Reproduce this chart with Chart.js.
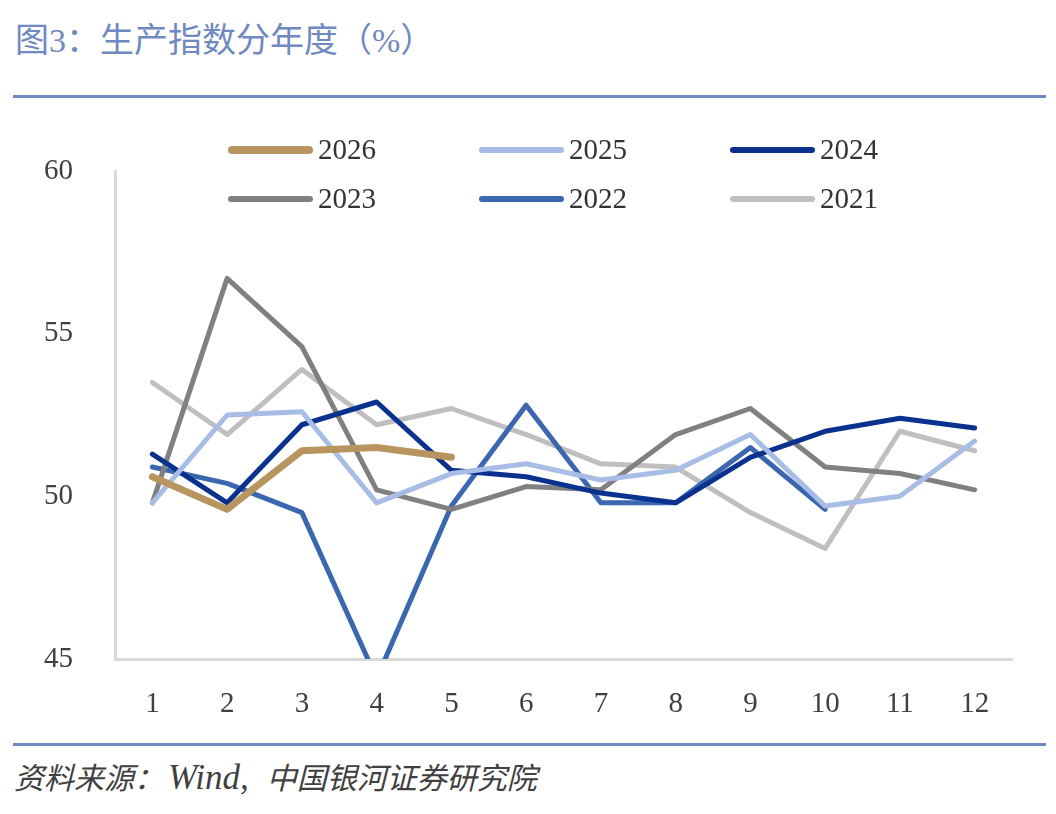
<!DOCTYPE html>
<html lang="zh">
<head>
  <meta charset="UTF-8">
  <title>生产指数分年度</title>
  <script src="https://cdn.jsdelivr.net/npm/chart.js"></script>
  <style>
    body { margin: 0; width: 1056px; height: 814px; background: #fff; position: relative; overflow: hidden; }
    .title { position: absolute; left: 15px; top: 13px; font-family: "Liberation Serif", "Noto Sans CJK SC", serif; font-size: 34px; color: #7089c0; white-space: nowrap; }
    .rule { position: absolute; left: 13px; width: 1033px; height: 3px; background: #6e88be; }
    .chartBox { position: absolute; left: 0; top: 100px; width: 1056px; height: 640px; }
    .legend { position: absolute; left: 228px; top: 125px; display: grid; grid-template-columns: 251px 251px 251px; grid-auto-rows: 49px; }
    .legend .item { display: flex; align-items: center; font-family: "Liberation Serif", serif; font-size: 29px; color: #333; }
    .legend .swatch { width: 85px; border-radius: 5px; margin-right: 5px; }
    .source { position: absolute; left: 14px; top: 754px; font-family: "Liberation Serif", "Noto Sans CJK SC", serif; font-style: italic; font-size: 30px; color: #404040; white-space: nowrap; }
    .source .latin { font-size: 35px; margin-left: 4px; margin-right: 18px; }
  </style>
</head>
<body>
  <div class="title">图3：生产指数分年度（%）</div>
  <div class="rule" style="top:95px"></div>
  <div class="chartBox"><canvas id="pmiChart"></canvas></div>
  <div class="legend" id="legend"></div>
  <div class="rule" style="top:743px"></div>
  <div class="source">资料来源：<span class="latin">Wind,</span>中国银河证券研究院</div>

  <script>
    // months on the x axis
    const months = ['1', '2', '3', '4', '5', '6', '7', '8', '9', '10', '11', '12'];

    // production index by year
    const y2026 = [50.6, 49.6, 51.4, 51.5, 51.2];
    const y2025 = [49.8, 52.5, 52.6, 49.8, 50.7, 51.0, 50.5, 50.8, 51.9, 49.7, 50.0, 51.7];
    const y2024 = [51.3, 49.8, 52.2, 52.9, 50.8, 50.6, 50.1, 49.8, 51.2, 52.0, 52.4, 52.1];
    const y2023 = [49.8, 56.7, 54.6, 50.2, 49.6, 50.3, 50.2, 51.9, 52.7, 50.9, 50.7, 50.2];
    const y2022 = [50.9, 50.4, 49.5, 44.4, 49.7, 52.8, 49.8, 49.8, 51.5, 49.6];
    const y2021 = [53.5, 51.9, 53.9, 52.2, 52.7, 51.9, 51.0, 50.9, 49.5, 48.4, 52.0, 51.4];

    const yTicks = [45, 50, 55, 60];

    function lineSet(label, data, color, width) {
      return {
        label: label,
        data: data,
        borderColor: color,
        backgroundColor: color,
        borderWidth: width,
        pointRadius: 0,
        tension: 0,
        borderCapStyle: 'round',
        borderJoinStyle: 'round',
        fill: false
      };
    }

    const datasets = [
      lineSet('2026', y2026, '#b8955f', 7),
      lineSet('2025', y2025, '#a7bde6', 5),
      lineSet('2024', y2024, '#0b318f', 5),
      lineSet('2023', y2023, '#808080', 5),
      lineSet('2022', y2022, '#3b66b0', 5),
      lineSet('2021', y2021, '#bfbfbf', 5)
    ];

    const tickFont = { family: 'Liberation Serif', size: 29 };

    const chart = new Chart(document.getElementById('pmiChart'), {
      type: 'line',
      data: { labels: months, datasets: datasets },
      options: {
        responsive: true,
        maintainAspectRatio: false,
        animation: false,
        layout: { padding: { top: 71, right: 44, bottom: 0, left: 0 } },
        plugins: {
          legend: { display: false },
          tooltip: { enabled: false }
        },
        scales: {
          x: {
            offset: true,
            grid: { display: false, drawTicks: false },
            border: { color: '#d9d9d9', width: 3 },
            ticks: { color: '#404040', font: tickFont, padding: 28, maxRotation: 0 },
            afterFit: (s) => { s.height = 81; }
          },
          y: {
            min: 45,
            max: 60,
            grid: { display: false, drawTicks: false },
            border: { color: '#d9d9d9', width: 3 },
            ticks: { color: '#404040', font: tickFont, padding: 42, stepSize: 5 },
            afterBuildTicks: (s) => { s.ticks = yTicks.map(v => ({ value: v })); },
            afterFit: (s) => { s.width = 115; }
          }
        }
      }
    });

    // legend in three columns, like the original
    const legendEl = document.getElementById('legend');
    chart.data.datasets.forEach(ds => {
      const item = document.createElement('div');
      item.className = 'item';
      const sw = document.createElement('span');
      sw.className = 'swatch';
      sw.style.background = ds.borderColor;
      sw.style.height = (ds.borderWidth > 5 ? 8 : 6) + 'px';
      item.appendChild(sw);
      item.appendChild(document.createTextNode(ds.label));
      legendEl.appendChild(item);
    });
  </script>
</body>
</html>
